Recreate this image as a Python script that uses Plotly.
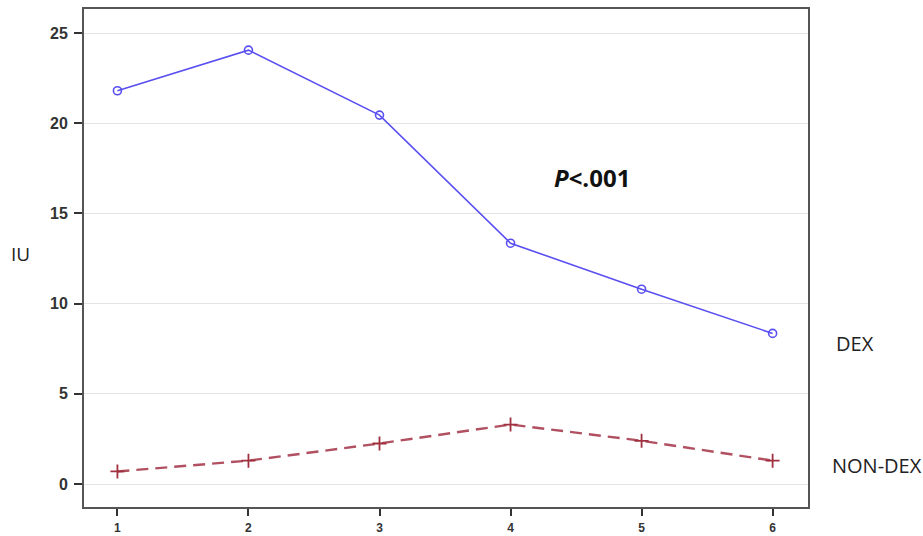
import plotly.graph_objects as go

x_vals = [1, 2, 3, 4, 5, 6]
dex_vals = [21.8, 24.05, 20.45, 13.35, 10.8, 8.35]
nondex_vals = [0.7, 1.3, 2.25, 3.3, 2.4, 1.3]
y_ticks = [0, 5, 10, 15, 20, 25]

W, H = 923, 536
ML, MR, MT, MB = 84, 115, 9, 29

fig = go.Figure()
fig.add_trace(go.Scatter(
    x=x_vals, y=dex_vals, mode="lines+markers", name="DEX",
    line=dict(color="#5a4ff0", width=1.6),
    marker=dict(symbol="circle-open", size=8, color="#5a4ff0", line=dict(width=1.6)),
))
fig.add_trace(go.Scatter(
    x=x_vals, y=nondex_vals, mode="lines+markers", name="NON-DEX",
    line=dict(color="#b05060", width=2.4, dash="12px,7px"),
    marker=dict(symbol="cross-thin", size=10, color="#a0303f", line=dict(width=1.8, color="#a0303f")),
))

plot_w = W - ML - MR
plot_h = H - MT - MB
lab_font = "Open Sans, sans-serif"

fig.update_layout(
    width=W, height=H,
    margin=dict(l=ML, r=MR, t=MT, b=MB, autoexpand=False),
    paper_bgcolor="white", plot_bgcolor="white",
    showlegend=False,
    font=dict(family="Liberation Sans, Arial, sans-serif", color="#333"),
    xaxis=dict(
        range=[0.745, 6.27], tickvals=x_vals, ticks="outside", ticklen=7, tickwidth=1.5,
        tickcolor="#333", showgrid=False, zeroline=False, automargin=False,
        showline=True, linecolor="#555", linewidth=1.8, mirror=True,
        tickfont=dict(size=12, color="#333", weight="bold"), ticklabelstandoff=2,
    ),
    yaxis=dict(
        range=[-1.27, 26.33], tickvals=y_ticks, ticks="outside", ticklen=8, tickwidth=1.5,
        tickcolor="#333", showgrid=True, gridcolor="#e4e4e4", gridwidth=1, zeroline=False,
        showline=True, linecolor="#555", linewidth=1.8, mirror=True, automargin=False,
        tickfont=dict(size=16, color="#333", weight="bold"), ticklabelstandoff=3,
    ),
    annotations=[
        dict(x=(20 - ML) / plot_w, y=(H - MB - 254) / plot_h, xref="paper", yref="paper",
             text="IU", showarrow=False, xanchor="center", yanchor="middle",
             font=dict(size=19, color="#222", family=lab_font)),
        dict(text="<b><i>P</i>&lt;.001</b>", x=4.62, y=17.0, xref="x", yref="y", showarrow=False,
             font=dict(size=24, color="#111", family=lab_font)),
        dict(text="DEX", x=(855.5 - ML) / plot_w, y=7.8, xref="paper", yref="y",
             xanchor="center", showarrow=False,
             font=dict(size=20, color="#222", family=lab_font)),
        dict(text="NON-DEX", x=(876.5 - ML) / plot_w, y=1.05, xref="paper", yref="y",
             xanchor="center", showarrow=False,
             font=dict(size=20, color="#222", family=lab_font)),
    ],
)

fig.write_html("out.html", config={"displayModeBar": False},
               post_script="document.body.style.margin='0';document.body.style.padding='0';")
